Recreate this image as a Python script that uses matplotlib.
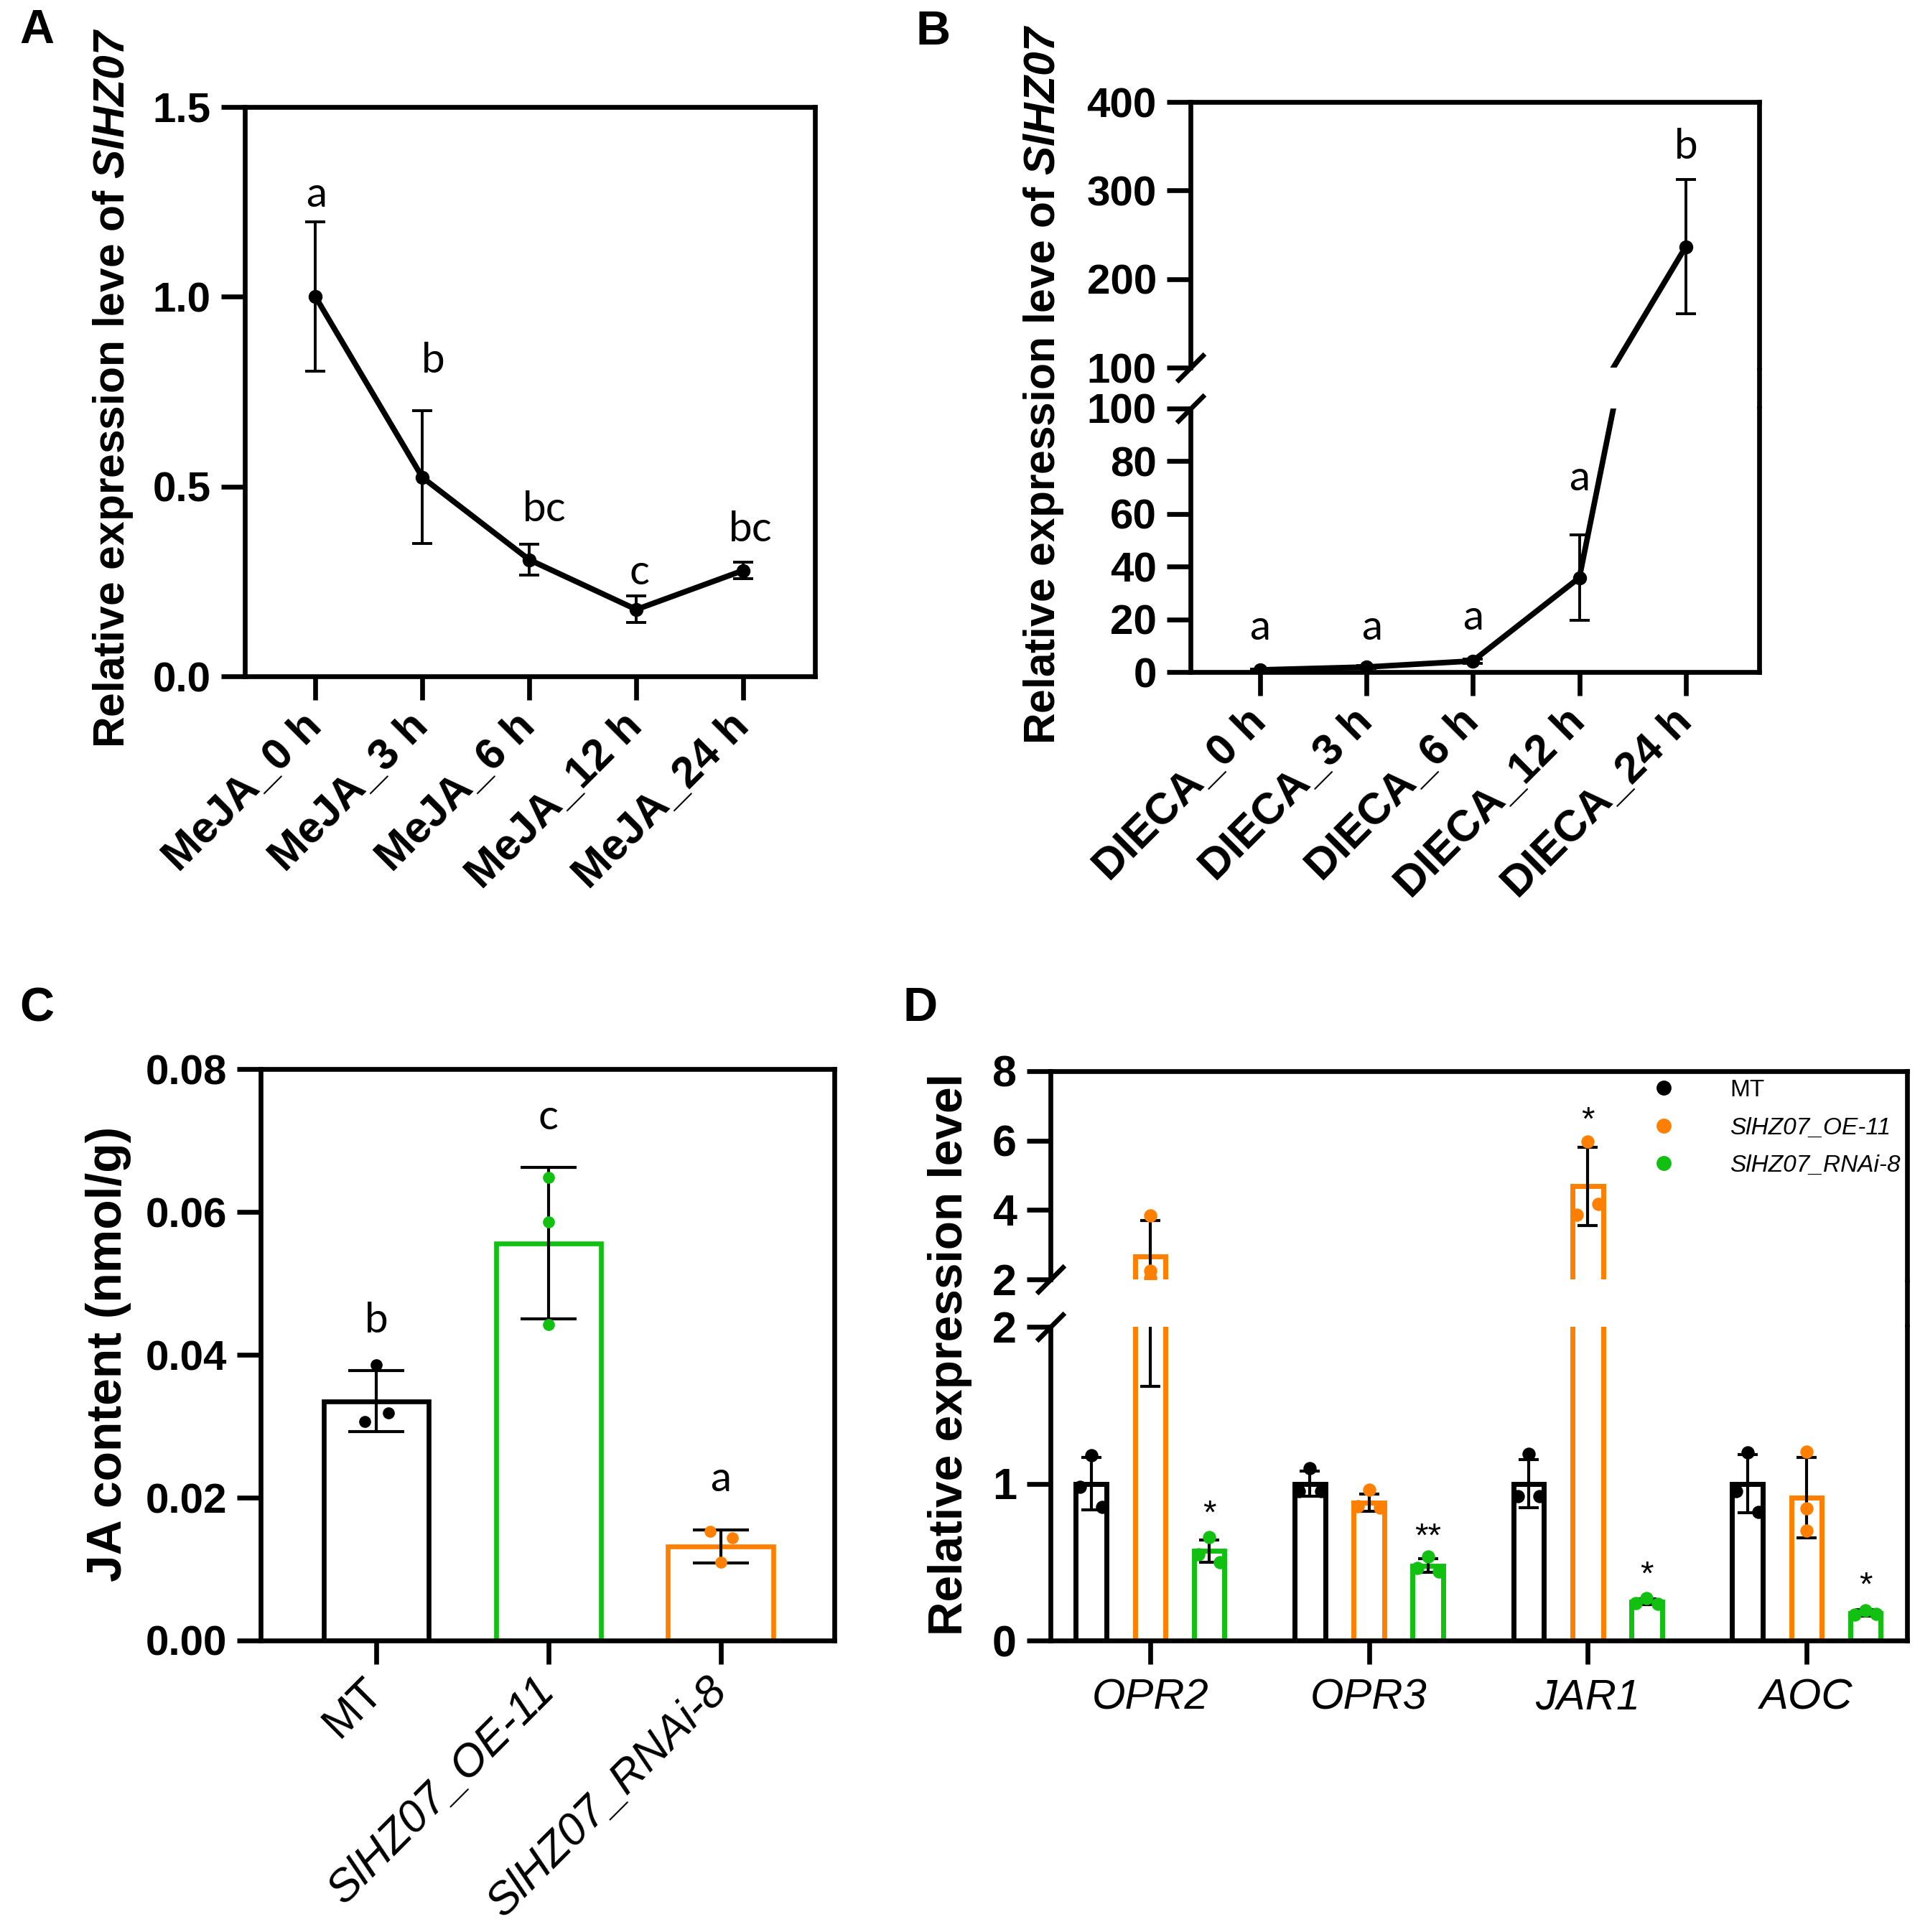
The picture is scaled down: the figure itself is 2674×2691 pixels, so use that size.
import matplotlib
matplotlib.use("Agg")
import matplotlib.pyplot as plt
from matplotlib.lines import Line2D
import numpy as np

# ---------------- data ----------------
# Panel A
meja_labels = ["MeJA_0 h", "MeJA_3 h", "MeJA_6 h", "MeJA_12 h", "MeJA_24 h"]
meja_mean = [1.0, 0.524, 0.307, 0.176, 0.279]
meja_sd = [0.197, 0.175, 0.041, 0.035, 0.021]
meja_letters = ["a", "b", "bc", "c", "bc"]
meja_letter_y = [1.268, 0.831, 0.44, 0.274, 0.387]
meja_letter_dx = [0.01, 0.1, 0.14, 0.03, 0.07]

# Panel B
dieca_labels = ["DIECA_0 h", "DIECA_3 h", "DIECA_6 h", "DIECA_12 h", "DIECA_24 h"]
dieca_mean = [0.8, 1.9, 4.2, 35.8, 236.5]
dieca_sd = [0.3, 0.5, 0.8, 16.3, 76.0]
dieca_letters = ["a", "a", "a", "a", "b"]
dieca_letter_y = [16.8, 16.8, 20.7, 73.3, 349.0]
dieca_letter_dx = [0.0, 0.05, 0.0, 0.0, 0.0]

# Panel C
jac_labels = ["MT", "SlHZ07_OE-11", "SlHZ07_RNAi-8"]
jac_mean = [0.0335, 0.0556, 0.0132]
jac_sd = [0.0043, 0.0106, 0.0023]
jac_points = [[0.0386, 0.0319, 0.0307],
              [0.0648, 0.0586, 0.0442],
              [0.0153, 0.0144, 0.0110]]
jac_jitter = [[0.0, 0.072, -0.065],
              [0.0, 0.0, 0.0],
              [-0.06, 0.07, 0.0]]
jac_letters = ["b", "c", "a"]
jac_letter_y = [0.0448, 0.0732, 0.0226]

# Panel D
genes = ["OPR2", "OPR3", "JAR1", "AOC"]
series_names = ["MT", "SlHZ07_OE-11", "SlHZ07_RNAi-8"]
mt_mean = [1.0, 1.0, 1.0, 1.0]
mt_sd = [0.165, 0.08, 0.155, 0.186]
mt_pts = [[1.18, 0.98, 0.85], [1.10, 0.95, 0.95], [1.19, 0.92, 0.92], [1.20, 0.95, 0.82]]
oe_mean = [2.66, 0.88, 4.68, 0.91]
oe_sd = [1.04, 0.055, 1.13, 0.255]
oe_pts = [[3.85, 2.25, 2.05], [0.96, 0.855, 0.847], [5.97, 4.17, 3.86], [1.205, 0.841, 0.698]]
ri_mean = [0.57, 0.478, 0.248, 0.175]
ri_sd = [0.07, 0.045, 0.018, 0.02]
ri_pts = [[0.66, 0.55, 0.50], [0.535, 0.46, 0.44], [0.27, 0.24, 0.235], [0.19, 0.165, 0.17]]
d_jitter = [[[0.0, -0.05, 0.05]] * 4,
            [[0.0, 0.0, 0.0], [0.0, -0.05, 0.05], [0.0, 0.05, -0.05], [0.0, 0.0, 0.0]],
            [[0.0, -0.05, 0.05]] * 4]
oe_sig = ["", "", "*", ""]
oe_sig_y = [None, None, 6.56, None]
ri_sig = ["*", "**", "*", "*"]
ri_sig_y = [0.80, 0.654, 0.414, 0.345]

# ---------------- style ----------------
BLACK = "#000000"
ORANGE = "#FF8000"
GREEN = "#12C012"
plt.rcParams["font.family"] = ["Liberation Sans", "DejaVu Sans"]
plt.rcParams["mathtext.fontset"] = "custom"
plt.rcParams["mathtext.rm"] = "Liberation Sans:bold"
plt.rcParams["mathtext.bf"] = "Liberation Sans:bold"
plt.rcParams["mathtext.it"] = "Liberation Sans:italic:bold"
plt.rcParams["mathtext.bfit"] = "Liberation Sans:italic:bold"

W, H, DPI = 2674, 2691, 200
fig = plt.figure(figsize=(W / DPI, H / DPI), dpi=DPI)


def rect(l, r, t, b):
    return [l / W, 1 - b / H, (r - l) / W, (b - t) / H]


SLW = 2.4
TICKLEN = 12
LETTER_FONT = ["Lato", "DejaVu Sans"]
XROT_FS = 22


def style(ax):
    for s in ax.spines.values():
        s.set_linewidth(SLW)
    ax.tick_params(axis="both", which="major", length=TICKLEN, width=SLW, pad=5, direction="out")


def break_marks(ax_up, ax_low):
    kw = dict(marker=[(-1, -1), (1, 1)], markersize=14, linestyle="none",
              color="k", mec="k", mew=SLW, clip_on=False)
    ax_up.plot([0], [0], transform=ax_up.transAxes, **kw)
    ax_low.plot([0], [1], transform=ax_low.transAxes, **kw)


def right_connector(r, t, b):
    fig.add_artist(Line2D([r / W, r / W], [1 - t / H, 1 - b / H], color="k",
                          lw=SLW, transform=fig.transFigure, solid_capstyle="butt"))


# ---------------- Panel A ----------------
axA = fig.add_axes(rect(341, 1135, 149, 942))
xA = np.arange(len(meja_labels))
axA.errorbar(xA, meja_mean, yerr=meja_sd, color=BLACK, lw=2.8, marker="o", ms=6,
             capsize=5, elinewidth=1.4, capthick=1.4)
axA.set_xlim(-0.66, 4.67)
axA.set_ylim(0, 1.5)
style(axA)
axA.set_yticks([0, 0.5, 1.0, 1.5], ["0.0", "0.5", "1.0", "1.5"], fontweight="bold", fontsize=21)
axA.set_xticks(xA, meja_labels, rotation=45, ha="right", va="center",
               rotation_mode="anchor", fontweight="bold", fontsize=XROT_FS)
axA.tick_params(axis="x", pad=10)
for xi, dx, yy, lt in zip(xA, meja_letter_dx, meja_letter_y, meja_letters):
    axA.text(xi + dx, yy, lt, ha="center", va="center", fontsize=21, family=LETTER_FONT)

# ---------------- Panel B ----------------
axBu = fig.add_axes(rect(1658, 2450, 142, 512))
axBl = fig.add_axes(rect(1658, 2450, 569, 936))
xB = np.arange(len(dieca_labels))
for ax in (axBu, axBl):
    ax.errorbar(xB, dieca_mean, yerr=dieca_sd, color=BLACK, lw=2.8, marker="o", ms=6,
                capsize=5, elinewidth=1.4, capthick=1.4)
    ax.set_xlim(-0.655, 4.69)
    style(ax)
axBu.set_ylim(100, 400)
axBl.set_ylim(0, 100)
axBu.spines["bottom"].set_visible(False)
axBl.spines["top"].set_visible(False)
axBu.tick_params(axis="x", bottom=False, labelbottom=False)
axBu.set_yticks([100, 200, 300, 400], ["100", "200", "300", "400"], fontweight="bold", fontsize=21)
axBl.set_yticks([0, 20, 40, 60, 80, 100], ["0", "20", "40", "60", "80", "100"],
                fontweight="bold", fontsize=21)
axBl.set_xticks(xB, dieca_labels, rotation=45, ha="right", va="center",
                rotation_mode="anchor", fontweight="bold", fontsize=XROT_FS)
axBl.tick_params(axis="x", pad=10)
break_marks(axBu, axBl)
right_connector(2450, 512, 569)
for xi, dx, yy, lt in zip(xB, dieca_letter_dx, dieca_letter_y, dieca_letters):
    target = axBu if yy > 100 else axBl
    target.text(xi + dx, yy, lt, ha="center", va="center", fontsize=21, family=LETTER_FONT)

# ---------------- Panel C ----------------
axC = fig.add_axes(rect(363, 1162, 1489, 2285))
xC = np.arange(len(jac_labels))
colC = [BLACK, GREEN, ORANGE]
axC.bar(xC, jac_mean, width=0.61, facecolor="white", edgecolor=colC, linewidth=2.4, zorder=2)
axC.errorbar(xC, jac_mean, yerr=jac_sd, fmt="none", ecolor=BLACK, elinewidth=1.5,
             capsize=14, capthick=1.5, zorder=3)
for i in range(len(xC)):
    axC.scatter(xC[i] + np.array(jac_jitter[i]), jac_points[i], s=36, color=colC[i],
                zorder=4, linewidths=0)
axC.set_xlim(-0.67, 2.66)
axC.set_ylim(0, 0.08)
style(axC)
axC.set_yticks([0, 0.02, 0.04, 0.06, 0.08], ["0.00", "0.02", "0.04", "0.06", "0.08"],
               fontweight="bold", fontsize=21)
axC.set_xticks(xC, jac_labels, rotation=45, ha="right", va="center",
               rotation_mode="anchor", fontsize=22.5)
axC.tick_params(axis="x", pad=10)
for lab in axC.get_xticklabels()[1:]:
    lab.set_fontstyle("italic")
for xi, yy, lt in zip(xC, jac_letter_y, jac_letters):
    axC.text(xi, yy, lt, ha="center", va="center", fontsize=21, family=LETTER_FONT)

# ---------------- Panel D ----------------
axDu = fig.add_axes(rect(1463, 2656, 1492, 1782))
axDl = fig.add_axes(rect(1463, 2656, 1848, 2285))
xD = np.arange(len(genes))
offs = [-0.27, 0.0, 0.27]
means = [mt_mean, oe_mean, ri_mean]
sds = [mt_sd, oe_sd, ri_sd]
pts = [mt_pts, oe_pts, ri_pts]
colD = [BLACK, ORANGE, GREEN]
for ax in (axDu, axDl):
    for k in range(3):
        xs = xD + offs[k]
        ax.bar(xs, means[k], width=0.14, facecolor="white", edgecolor=colD[k],
               linewidth=2.5, zorder=2)
        ax.errorbar(xs, means[k], yerr=sds[k], fmt="none", ecolor=BLACK, elinewidth=1.5,
                    capsize=5, capthick=1.5, zorder=3)
        for g in range(len(genes)):
            ax.scatter(xs[g] + np.array(d_jitter[k][g]), pts[k][g], s=44, color=colD[k],
                       zorder=4, linewidths=0)
    ax.set_xlim(-0.456, 3.46)
    style(ax)
axDu.set_ylim(2, 8)
axDl.set_ylim(0, 2)
axDu.spines["bottom"].set_visible(False)
axDl.spines["top"].set_visible(False)
axDu.tick_params(axis="x", bottom=False, labelbottom=False)
axDu.set_yticks([2, 4, 6, 8], ["2", "4", "6", "8"], fontweight="bold", fontsize=22)
axDl.set_yticks([0, 1, 2], ["0", "1", "2"], fontweight="bold", fontsize=22)
axDl.set_xticks(xD, genes, fontstyle="italic", fontsize=21.5)
axDl.tick_params(axis="x", pad=7)
break_marks(axDu, axDl)
right_connector(2656, 1782, 1848)
for g in range(len(genes)):
    if oe_sig[g]:
        axDu.text(xD[g] + offs[1], oe_sig_y[g], oe_sig[g], ha="center", va="center", fontsize=17)
    axDl.text(xD[g] + offs[2], ri_sig_y[g], ri_sig[g], ha="center", va="center", fontsize=17)

handles = [Line2D([], [], linestyle="none", marker="o", ms=6.5, color=c) for c in colD]
leg = axDu.legend(handles, series_names, loc="upper left",
                  bbox_to_anchor=(2284 / W, 1 - 1503 / H), bbox_transform=fig.transFigure,
                  frameon=False, fontsize=12, borderpad=0, borderaxespad=0,
                  handlelength=2.0, handletextpad=1.75, labelspacing=0.64)
for t in leg.get_texts()[1:]:
    t.set_fontstyle("italic")

# ---------------- axis titles & panel labels ----------------
ylab = r"Relative expression leve of $\mathbfit{SlHZ07}$"
fig.text(158 / W, 1 - 540 / H, ylab, rotation=90, ha="center", va="center",
         fontsize=21.8, fontweight="bold")
fig.text(1453 / W, 1 - 535 / H, ylab, rotation=90, ha="center", va="center",
         fontsize=21.8, fontweight="bold")
fig.text(151 / W, 1 - 1886 / H, "JA content (nmol/g)", rotation=90, ha="center",
         va="center", fontsize=24.4, fontweight="bold")
fig.text(1323 / W, 1 - 1887 / H, "Relative expression level", rotation=90, ha="center",
         va="center", fontsize=23.7, fontweight="bold")

for lt, (px, py) in zip("ABCD", [(51, 43), (1300, 45), (51, 1405), (1282, 1405)]):
    fig.text(px / W, 1 - py / H, lt, ha="center", va="center", fontsize=24, fontweight="bold")

fig.savefig("out.png", dpi=DPI, facecolor="white")
